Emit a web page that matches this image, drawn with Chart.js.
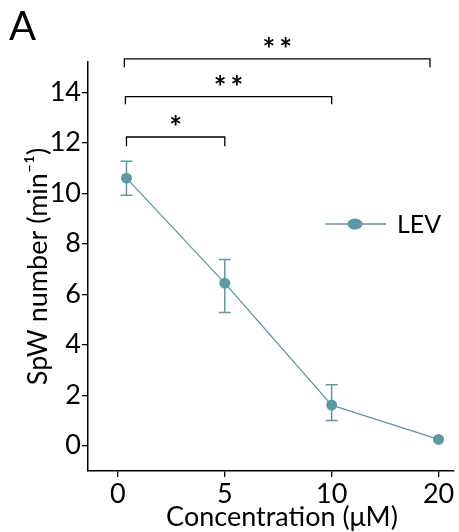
<!DOCTYPE html>
<html>
<head>
<meta charset="utf-8">
<script src="https://cdn.jsdelivr.net/npm/chart.js@4"></script>
<style>
  body { margin: 0; background: #fff; }
  canvas { display: block; }
</style>
</head>
<body>
<canvas id="spw" width="459" height="532"></canvas>
<script>
// concentrations (uM) shown as evenly spaced categories
let xLabels = ["0", "5", "10", "20"];
let xPos = [0.08, 1, 2, 3];
let spw = [10.6, 6.44, 1.61, 0.25];
let errHigh = [11.27, 7.38, 2.42, null];
let errLow = [9.92, 5.28, 1.0, null];
let yTicks = [0, 2, 4, 6, 8, 10, 12, 14];
// significance brackets: [from x, to x, bar y, foot y, label]
let brackets = [
  [0.08, 1.0, 12.23, 11.86, "*"],
  [0.07, 2.0, 13.83, 13.53, "**"],
  [0.06, 2.92, 15.32, 14.99, "**"],
];

const teal = "#5b9aa5";
const fontFam = "Lato, 'Open Sans', sans-serif";

const extras = {
  id: "extras",
  afterDatasetsDraw(chart) {
    const c = chart.ctx;
    const xs = chart.scales.x;
    const ys = chart.scales.y;
    c.save();
    // error bars
    c.strokeStyle = teal;
    c.lineWidth = 1.5;
    for (let i = 0; i < spw.length; i++) {
      if (errHigh[i] == null) continue;
      let px = xs.getPixelForValue(xPos[i]);
      let top = ys.getPixelForValue(errHigh[i]);
      let bot = ys.getPixelForValue(errLow[i]);
      c.beginPath();
      c.moveTo(px, top); c.lineTo(px, bot);
      c.moveTo(px - 6, top); c.lineTo(px + 6, top);
      c.moveTo(px - 6, bot); c.lineTo(px + 6, bot);
      c.stroke();
    }
    // brackets
    c.strokeStyle = "#000";
    c.lineWidth = 1.3;
    c.fillStyle = "#000";
    c.font = "bold 30px " + fontFam;
    c.letterSpacing = "4px";
    c.textAlign = "center";
    c.textBaseline = "alphabetic";
    brackets.forEach((b) => {
      let x1 = xs.getPixelForValue(b[0]);
      let x2 = xs.getPixelForValue(b[1]);
      let y = ys.getPixelForValue(b[2]);
      let yf = ys.getPixelForValue(b[3]);
      c.beginPath();
      c.moveTo(x1, yf); c.lineTo(x1, y); c.lineTo(x2, y); c.lineTo(x2, yf);
      c.stroke();
      c.fillText(b[4], (x1 + x2) / 2 + 2, y + 1);
    });
    c.letterSpacing = "0px";
    // legend inside plot
    const ca = chart.chartArea;
    let lx = ca.left + 237, ly = ca.top + 162;
    c.strokeStyle = teal;
    c.lineWidth = 1.3;
    c.beginPath();
    c.moveTo(lx, ly); c.lineTo(lx + 61, ly);
    c.stroke();
    c.fillStyle = teal;
    c.beginPath();
    c.ellipse(lx + 30, ly, 7.5, 5.5, 0, 0, Math.PI * 2);
    c.fill();
    c.fillStyle = "#000";
    c.textAlign = "left";
    c.textBaseline = "middle";
    c.font = "25px " + fontFam;
    c.fillText("LEV", lx + 72, ly + 1);
    // x axis title, sits a little right of the axis centre
    c.textAlign = "center";
    c.textBaseline = "alphabetic";
    c.font = "27px " + fontFam;
    c.fillText("Concentration (μM)", ca.left + 194, 526);
    // panel letter
    c.textAlign = "left";
    c.font = "40px " + fontFam;
    c.fillText("A", 9, 40);
    c.restore();
  },
};

new Chart(document.getElementById("spw"), {
  type: "line",
  data: {
    datasets: [
      {
        label: "LEV",
        data: xPos.map((x, i) => ({ x: x, y: spw[i] })),
        borderColor: teal,
        backgroundColor: teal,
        borderWidth: 1.3,
        pointRadius: 5.5,
        pointHoverRadius: 5.5,
        pointBorderWidth: 0,
        tension: 0,
      },
    ],
  },
  options: {
    responsive: false,
    animation: false,
    layout: { padding: { top: 62, right: 4, left: 0, bottom: 0 } },
    plugins: { legend: { display: false }, tooltip: { enabled: false } },
    scales: {
      x: {
        type: "linear",
        min: -0.28,
        max: 3.14,
        afterBuildTicks: (s) => { s.ticks = xLabels.map((l, i) => ({ value: i })); },
        afterFit: (s) => { s.height = 61; },
        ticks: {
          color: "#000",
          padding: 1,
          font: { family: fontFam, size: 27 },
          callback: (v) => xLabels[v],
        },
        grid: { display: true, drawOnChartArea: false, drawTicks: true, tickLength: 6, color: "#000", lineWidth: 1.3 },
        border: { display: true, color: "#000", width: 1.5 },
        title: { display: false },
      },
      y: {
        min: -1,
        max: 15.2,
        afterBuildTicks: (s) => { s.ticks = yTicks.map((v) => ({ value: v })); },
        afterFit: (s) => { s.width = 88; },
        ticks: {
          color: "#000",
          padding: 1,
          font: { family: fontFam, size: 27 },
        },
        grid: { display: true, drawOnChartArea: false, drawTicks: true, tickLength: 6, color: "#000", lineWidth: 1.3 },
        border: { display: true, color: "#000", width: 1.5 },
        title: {
          display: true,
          text: "SpW number (min⁻¹)",
          color: "#000",
          font: { family: fontFam, size: 27 },
          padding: { top: 22, bottom: 0 },
        },
      },
    },
  },
  plugins: [extras],
});
</script>
</body>
</html>
